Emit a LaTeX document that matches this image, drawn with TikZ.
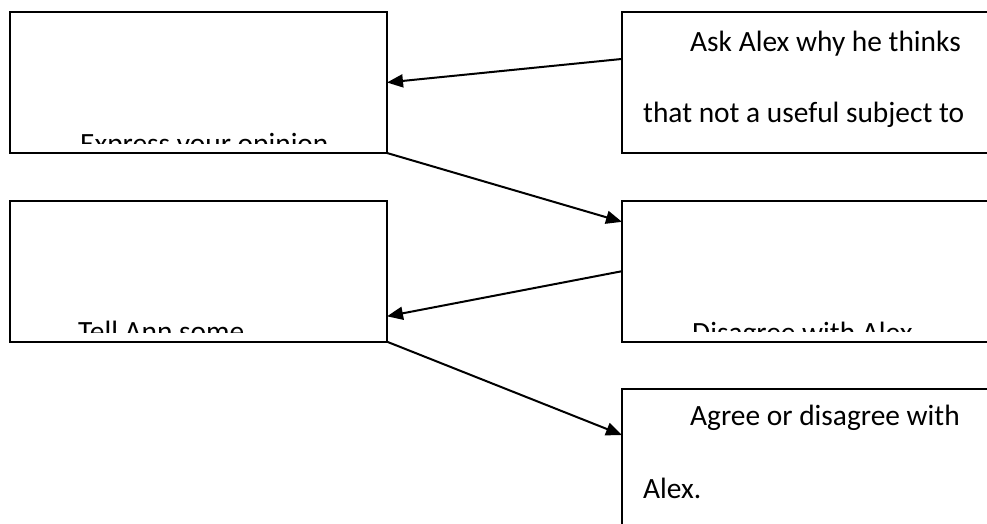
\documentclass[tikz,border=0pt]{standalone}
\usepackage{fontspec}
\setmainfont{Carlito}
\usetikzlibrary{arrows.meta,calc}
\tikzset{
  box/.style={draw, line width=1.6pt, rectangle, anchor=north west, minimum width=377pt, minimum height=141pt, inner sep=0pt, outer sep=0pt},
  lbl/.style={anchor=base west, inner sep=0pt, font=\fontsize{29.4}{32}\selectfont},
  conn/.style={line width=2pt, -{Triangle[length=16pt,width=13pt]}}
}
\begin{document}
\begin{tikzpicture}[x=1pt,y=-1pt]
\useasboundingbox (0,0) rectangle (987,524);
\fill[white] (0,0) rectangle (987,524);
\clip (0,0) rectangle (987,524);
\node[box] (L1) at (10,12) {};
\node[box] (R1) at (622,12) {};
\node[box] (L2) at (10,200.7) {};
\node[box] (R2) at (622,200.7) {};
\node[box, minimum height=160pt] (R3) at (622,389) {};
% clipped texts
\begin{scope}
\clip (L1.north west) rectangle ($(L1.south east)+(0,-10)$);
\node[lbl] (t1) at (80,153.5) {Express your opinion};
\end{scope}
\begin{scope}
\clip (L2.north west) rectangle ($(L2.south east)+(0,-9)$);
\node[lbl] (t2) at (78,341.5) {Tell Ann some};
\end{scope}
\begin{scope}
\clip (R2.north west) rectangle ($(R2.south east)+(0,-10)$);
\node[lbl] (t3) at (692,342.5) {Disagree with Alex};
\end{scope}
\node[lbl] (t4) at (690,52) {Ask Alex why he thinks};
\node[lbl] (t5) at (643,122) {that not a useful subject to};
\node[lbl] (t6) at (690,425) {Agree or disagree with};
\node[lbl] (t7) at (643,498) {Alex.};
% connectors
\draw[conn] ($(R1.north west)!0.333!(R1.south west)$) -- (L1.east);
\draw[conn] (L1.south east) -- ($(R2.north west)!0.15!(R2.south west)$);
\draw[conn] (R2.west) -- ($(L2.north east)!0.82!(L2.south east)$);
\draw[conn] (L2.south east) -- ($(R3.north west)+(0,46)$);
\end{tikzpicture}
\end{document}
